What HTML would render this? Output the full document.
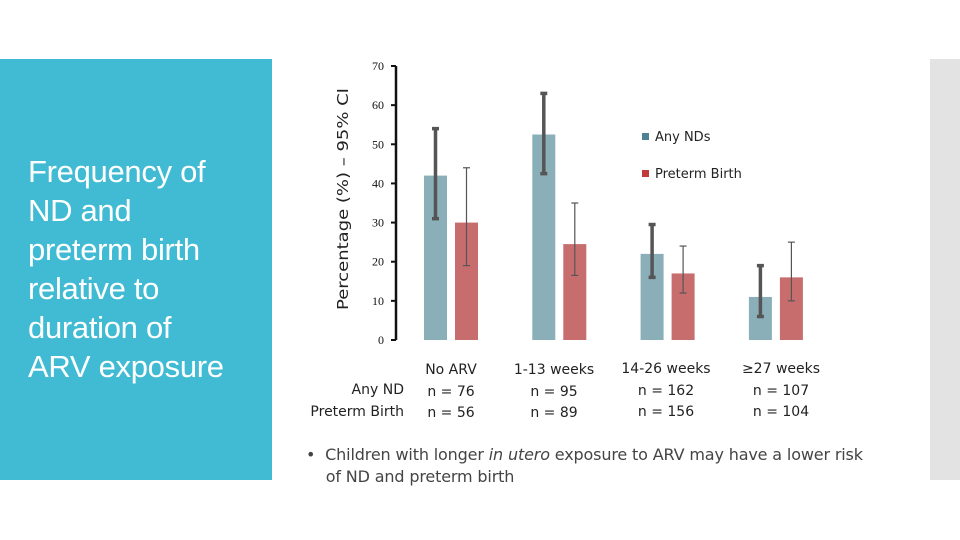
<!DOCTYPE html>
<html><head><meta charset="utf-8"><style>
body{margin:0;width:960px;height:540px;background:#fff;position:relative;overflow:hidden;font-family:"Liberation Sans",sans-serif}
#panel{position:absolute;left:0;top:59px;width:272px;height:421px;background:#40bbd3}
#title{position:absolute;left:28px;top:152px;color:#fff;font-size:31px;line-height:39px;font-family:"Liberation Sans",sans-serif;letter-spacing:-0.3px}
#rbar{position:absolute;left:930px;top:59px;width:30px;height:421px;background:#e3e3e3}
.lbl{position:absolute;font-size:14px;color:#222;text-align:center;line-height:21.5px;font-family:"DejaVu Sans","Liberation Sans",sans-serif}
#note{position:absolute;left:306px;top:444px;font-size:16px;color:#444;line-height:22px;font-family:"DejaVu Sans","Liberation Sans",sans-serif;letter-spacing:-0.15px}
</style></head><body>
<div id="panel"></div>
<div id="title">Frequency of<br>ND and<br>preterm birth<br>relative to<br>duration of<br>ARV exposure</div>
<div id="rbar"></div>
<svg id="chart" width="960" height="540" style="position:absolute;left:0;top:0"></svg>
<div class="lbl" style="left:292px;top:380px;width:112px;text-align:right">Any ND<br>Preterm Birth</div>
<div class="lbl" style="left:411px;top:360px;width:80px">No ARV<br>n = 76<br>n = 56</div>
<div class="lbl" style="left:504px;top:360px;width:100px">1-13 weeks<br>n = 95<br>n = 89</div>
<div class="lbl" style="left:610px;top:359px;width:112px">14-26 weeks<br>n = 162<br>n = 156</div>
<div class="lbl" style="left:726px;top:359px;width:110px">≥27 weeks<br>n = 107<br>n = 104</div>
<div id="note">•&nbsp; Children with longer <i>in utero</i> exposure to ARV may have a lower risk<br>&nbsp;&nbsp;&nbsp;&nbsp;of ND and preterm birth</div>
<script>
const categories=["No ARV","1-13 weeks","14-26 weeks","≥27 weeks"];
const ndValues=[42,52.5,22,11];
const ndLow=[31,42.5,16,6];
const ndHigh=[54,63,29.5,19];
const pbValues=[30,24.5,17,16];
const pbLow=[19,16.5,12,10];
const pbHigh=[44,35,24,25];
const yTicks=[0,10,20,30,40,50,60,70];
const svg=document.getElementById('chart');
const NS='http://www.w3.org/2000/svg';
const y0=340,y1=66,yMax=70;
const y=v=>y0-(y0-y1)*v/yMax;
const gx=i=>451+108.3*i;
function mk(t,a,p){const e=document.createElementNS(NS,t);for(const k in a)e.setAttribute(k,a[k]);(p||svg).appendChild(e);return e;}
const ax=mk('line',{x1:396,x2:396,y1:y(70),y2:y(0),stroke:'#111','stroke-width':2.5});


yTicks.forEach(t=>{
 const l=mk('line',{x1:391,x2:396,y1:y(t),y2:y(t),stroke:'#111','stroke-width':2});
 
 
 const tx=mk('text',{x:384,y:y(t)+4,'text-anchor':'end','font-size':12,'font-family':'Liberation Serif, serif',fill:'#111'});
 tx.textContent=t;
 
 
});
const yt=mk('text',{x:0,y:0,transform:'translate(348,199) rotate(-90)','text-anchor':'middle','font-size':15.5,fill:'#222','font-family':'DejaVu Sans, sans-serif',textLength:222,lengthAdjust:'spacingAndGlyphs'});
yt.textContent='Percentage (%) – 95% CI';


function bar(xc,v,lo,hi,col,ecol,ew,name){
 const r=mk('rect',{x:xc-11.5,y:y(v),width:23,height:y(0)-y(v),fill:col});
 
 
 const g=mk('g',{stroke:ecol,'stroke-width':ew});
 
 
 mk('line',{x1:xc,x2:xc,y1:y(lo),y2:y(hi)},g);
 mk('line',{x1:xc-3.5,x2:xc+3.5,y1:y(lo),y2:y(lo)},g);
 mk('line',{x1:xc-3.5,x2:xc+3.5,y1:y(hi),y2:y(hi)},g);
}
categories.forEach((c,i)=>{
 bar(gx(i)-15.5,ndValues[i],ndLow[i],ndHigh[i],'#8aafb8','#555',3.5,'bar-nd-'+i);
 bar(gx(i)+15.5,pbValues[i],pbLow[i],pbHigh[i],'#c76d6e','#555',1.2,'bar-pb-'+i);
});
[['Any NDs','#4f8291',138],['Preterm Birth','#c0393b',175]].forEach(([t,c,yy])=>{
 const g=mk('g',{});
 
 
 mk('rect',{x:642,y:yy-5,width:7,height:7,fill:c},g);
 const tx=mk('text',{x:655,y:yy+3,'font-size':13,fill:'#222','font-family':'DejaVu Sans, sans-serif'},g);
 tx.textContent=t;
});
</script>
</body></html>
